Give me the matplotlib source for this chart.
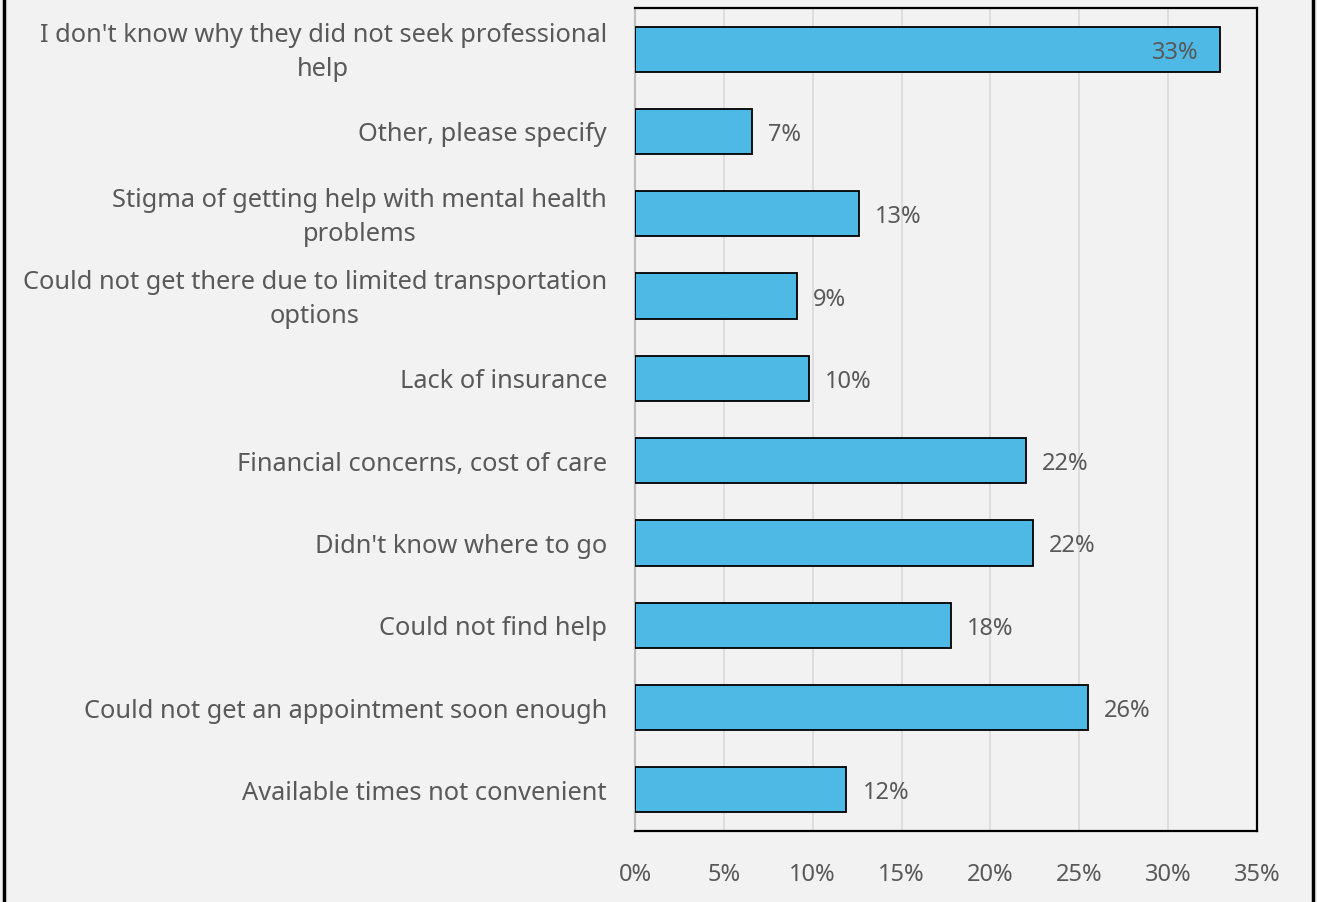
import matplotlib
matplotlib.use("Agg")
import matplotlib.pyplot as plt
import matplotlib.transforms as mtransforms
from matplotlib.ticker import FuncFormatter, MultipleLocator, NullFormatter
from matplotlib.lines import Line2D

categories = [
    "Available times not convenient",
    "Could not get an appointment soon enough",
    "Could not find help",
    "Didn't know where to go",
    "Financial concerns, cost of care",
    "Lack of insurance",
    "Could not get there due to limited transportation\noptions",
    "Stigma of getting help with mental health\nproblems",
    "Other, please specify",
    "I don't know why they did not seek professional\nhelp",
]
values = [11.9, 25.5, 17.8, 22.4, 22.0, 9.8, 9.1, 12.6, 6.6, 32.9]

BG = "#f2f2f2"
BAR = "#4fb9e6"
TEXT = "#595959"
FONT = "Noto Sans"
FS_CAT = 18.3
FS = 17

fig = plt.figure(figsize=(13.17, 9.03), dpi=100, facecolor=BG)
ax = fig.add_axes([635 / 1317, 1 - 832 / 903, 622 / 1317, 823 / 903])
ax.set_facecolor(BG)

y = list(range(len(categories)))
ax.barh(y, values, height=0.55, color=BAR, edgecolor="black",
        linewidth=1.3, zorder=3)

ax.set_xlim(0, 35)
ax.set_ylim(-0.5, len(categories) - 0.5)
ax.xaxis.set_major_locator(MultipleLocator(5))
ax.xaxis.set_major_formatter(FuncFormatter(lambda v, p: f"{v:.0f}%"))
ax.grid(axis="x", color="#d9d9d9", linewidth=1.2, zorder=0)
ax.set_yticks(y)
ax.yaxis.set_major_formatter(NullFormatter())
ax.tick_params(axis="y", length=0)
ax.tick_params(axis="x", length=0, pad=22, labelsize=FS, labelcolor=TEXT)
for lbl in ax.get_xticklabels():
    lbl.set_family(FONT)

# Category labels, right-aligned just left of the axis
label_tf = mtransforms.blended_transform_factory(ax.transAxes, ax.transData)
label_tf = label_tf + mtransforms.ScaledTranslation(-28 / 100, -2.5 / 100,
                                                    fig.dpi_scale_trans)
for i, cat in enumerate(categories):
    ax.text(0, i, cat, transform=label_tf, ha="right", va="center",
            multialignment="center", fontsize=FS_CAT, color=TEXT,
            family=FONT, linespacing=1.48)

for side in ("top", "right", "bottom"):
    ax.spines[side].set_color("black")
    ax.spines[side].set_linewidth(1.6)
ax.spines["left"].set_color("#bfbfbf")
ax.spines["left"].set_linewidth(1.6)

for i, v in enumerate(values):
    label = f"{v:.0f}%"
    if v > 30:
        ax.text(v - 1.2, i - 0.03, label, ha="right", va="center", fontsize=FS,
                color=TEXT, family=FONT, zorder=4)
    else:
        ax.text(v + 0.9, i - 0.03, label, ha="left", va="center", fontsize=FS,
                color=TEXT, family=FONT, zorder=4)

# Outer frame edges on the left and right of the figure
fig.add_artist(Line2D([4 / 1317, 4 / 1317], [0, 1], color="black",
                      linewidth=2.5, transform=fig.transFigure))
fig.add_artist(Line2D([1313 / 1317, 1313 / 1317], [0, 1], color="black",
                      linewidth=2.5, transform=fig.transFigure))

fig.savefig("out.png", dpi=100, facecolor=BG)
